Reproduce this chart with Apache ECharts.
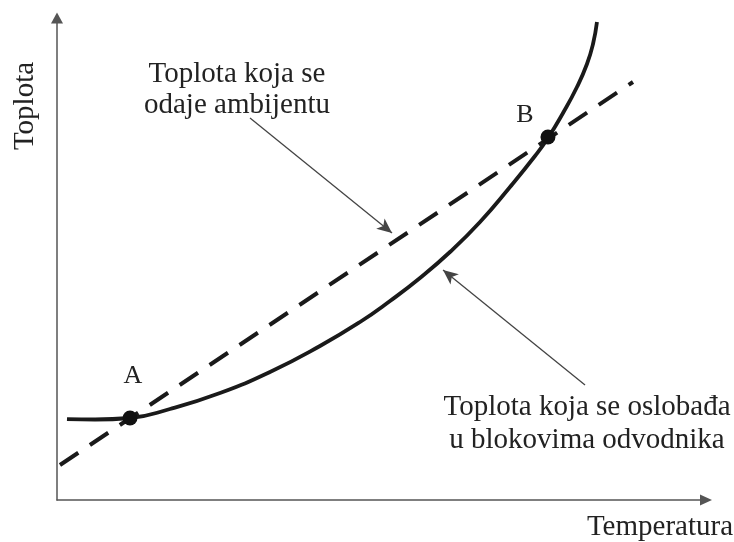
<!DOCTYPE html>
<html>
<head>
<meta charset="utf-8">
<script src="https://cdn.jsdelivr.net/npm/echarts@6/dist/echarts.min.js"></script>
<style>html,body{margin:0;padding:0;background:#fff}#c{width:734px;height:542px}</style>
</head>
<body>
<div id="c"></div>
<script>
// Solid curve: heat released in the arrester blocks (x, y in relative units 0..100)
const releasedX = [1.54, 5.86, 11.25, 17.41, 25.12, 32.82, 40.52, 46.69, 51.31, 55.93, 60.55, 65.18, 69.80, 73.65, 75.65, 77.97, 80.12, 81.66, 82.59, 83.20];
const releasedY = [16.80, 16.70, 17.01, 18.88, 22.20, 26.56, 31.95, 36.93, 41.29, 46.06, 51.45, 57.68, 64.94, 71.37, 75.10, 80.29, 85.68, 90.46, 94.61, 99.17];
// Dashed line: heat dissipated to the surroundings
const dissipatedX = [0.46, 88.75];
const dissipatedY = [7.26, 86.72];
// Intersection points
const pointNames = ['A', 'B'];
const pointX = [11.25, 75.65];
const pointY = [17.01, 75.31];
// Annotation arrows [fromX, fromY, toX, toY]
const arrowUpper = [29.74, 79.25, 51.62, 55.39];
const arrowLower = [81.36, 23.86, 59.48, 47.72];
// Texts
const yName = 'Toplota';
const xName = 'Temperatura';
const noteUpper = 'Toplota koja se\nodaje ambijentu';
const noteLower = 'Toplota koja se oslobađa\nu blokovima odvodnika';

const FONT = "'Liberation Serif', 'Times New Roman', serif";
const chart = echarts.init(document.getElementById('c'), null, {renderer: 'canvas'});

const axisCommon = {
  type: 'value', min: 0, max: 100,
  axisTick: {show: false}, axisLabel: {show: false}, splitLine: {show: false},
  axisLine: {show: true, lineStyle: {color: '#555', width: 1.5}, symbol: ['none', 'triangle']}
};

chart.setOption({
  animation: false,
  backgroundColor: '#fff',
  grid: {left: 57, right: 28, top: 18, bottom: 42},
  xAxis: Object.assign({}, axisCommon, {axisLine: Object.assign({}, axisCommon.axisLine, {symbolSize: [11, 12]})}),
  yAxis: Object.assign({}, axisCommon, {axisLine: Object.assign({}, axisCommon.axisLine, {symbolSize: [12, 11]})}),
  series: [
    {
      type: 'line', name: 'released', smooth: 0.5, symbol: 'none',
      data: releasedX.map((x, i) => [x, releasedY[i]]),
      lineStyle: {color: '#1a1a1a', width: 3.8}, z: 3
    },
    {
      type: 'line', name: 'dissipated', symbol: 'none',
      data: dissipatedX.map((x, i) => [x, dissipatedY[i]]),
      lineStyle: {color: '#1a1a1a', width: 4, type: [22, 14]}, z: 2,
      markLine: {
        silent: true, symbol: ['none', 'arrow'], symbolSize: [10, 15],
        label: {show: false},
        lineStyle: {color: '#444', width: 1.3, type: 'solid'},
        data: [
          [{coord: [arrowUpper[0], arrowUpper[1]]}, {coord: [arrowUpper[2], arrowUpper[3]]}],
          [{coord: [arrowLower[0], arrowLower[1]]}, {coord: [arrowLower[2], arrowLower[3]]}]
        ]
      }
    },
    {
      type: 'scatter', symbolSize: 15, z: 5,
      itemStyle: {color: '#111', opacity: 1},
      data: pointNames.map((n, i) => ({
        value: [pointX[i], pointY[i]], name: n,
        label: {show: true, formatter: n, position: 'inside', offset: i === 0 ? [3, -42] : [-23, -22],
          color: '#222', fontFamily: FONT, fontSize: 26}
      }))
    }
  ],
  graphic: [
    {type: 'text', x: 237, y: 59, style: {text: noteUpper, align: 'center', verticalAlign: 'top', font: '29px ' + FONT, lineHeight: 31, fill: '#222'}},
    {type: 'text', x: 587, y: 391, style: {text: noteLower, align: 'center', verticalAlign: 'top', font: '29px ' + FONT, lineHeight: 33, fill: '#222'}},
    {type: 'text', x: 733, y: 513, style: {text: xName, align: 'right', verticalAlign: 'top', font: '29px ' + FONT, fill: '#222'}},
    {type: 'text', x: 25, y: 106, rotation: Math.PI / 2, style: {text: yName, align: 'center', verticalAlign: 'middle', font: '29px ' + FONT, fill: '#222'}}
  ]
});
</script>
</body>
</html>
